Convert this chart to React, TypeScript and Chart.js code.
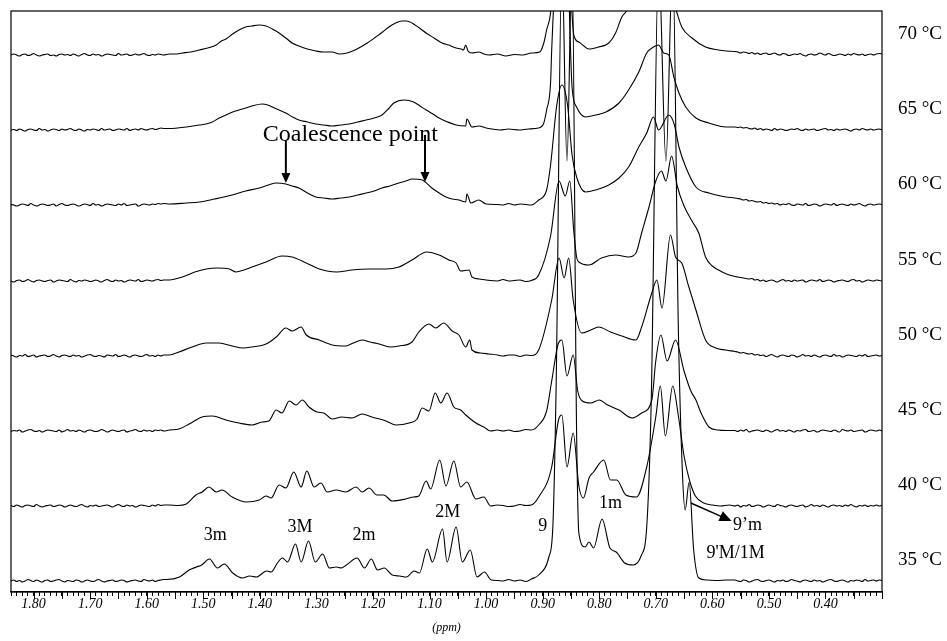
import React, { useEffect, useRef } from 'react';
import { Chart, registerables } from 'chart.js';

Chart.register(...registerables);

const temperatures = ['35 °C', '40 °C', '45 °C', '50 °C', '55 °C', '60 °C', '65 °C', '70 °C'];
const stackOffsets = [0, 75, 150, 225, 300, 376, 451, 526];

// flat baseline regions (ppm) where only noise is present
const leftGrid = [1.840,1.835,1.830,1.825,1.820,1.815,1.810,1.805,1.800,1.795,1.790,1.785,1.780,1.775,1.770,1.765,1.760,1.755,1.750,1.745,1.740,1.735,1.730,1.725,1.720,1.715,1.710,1.705,1.700,1.695,1.690,1.685,1.680,1.675,1.670,1.665,1.660,1.655,1.650,1.645,1.640,1.635,1.630,1.625,1.620,1.615,1.610,1.605,1.600,1.595,1.590,1.585,1.580,1.575,1.570];
const rightGrid = [0.560,0.555,0.550,0.545,0.540,0.535,0.530,0.525,0.520,0.515,0.510,0.505,0.500,0.495,0.490,0.485,0.480,0.475,0.470,0.465,0.460,0.455,0.450,0.445,0.440,0.435,0.430,0.425,0.420,0.415,0.410,0.405,0.400,0.395,0.390,0.385,0.380,0.375,0.370,0.365,0.360,0.355,0.350,0.345,0.340,0.335,0.330,0.325,0.320,0.315,0.310,0.305,0.300];

// baseline noise read on those grids
const left35 = [0,1,-0.5,0.5,-1,0,1.5,0.5,-0.5,1, 0,-1,0.5,1,-0.5,0,1,1.5,0,-1, 0.5,0,-0.5,1,0.5,-1,0,1,0,-0.5, 0.5,1.5,0,-1,0,0.5,1,-0.5,0,1, 0.5,-1,0,0.5,1,0,-0.5,1.5,0.5,0, 1,-0.5,0.5,1,1.5];
const right35 = [1,0,-0.5,1,0.5,-1,0,1,1.5,0, -0.5,0.5,1,0,-1,0.5,0,1,-0.5,0, 1.5,0.5,0,-1,0.5,1,0,-0.5,1,0, 0.5,-1,0,1,1.5,0,-0.5,0.5,1,0, -1,0.5,0,1,0.5,-0.5,1.5,0,0.5,1, 0,1,0.5];
const left40 = [0.5,-0.5,1,0,-1,0.5,1,0,-0.5,1.5, 0,-1,0,0.5,1,-0.5,0,1,0.5,-1, 0,1,0,-0.5,0.5,1.5,0,-1,0.5,0, 1,-0.5,0,0.5,1,0,-1,0.5,1.5,0, -0.5,1,0,0.5,-1,0,1,0.5,0,-0.5, 1,0,1.5,0.5,1];
const right40 = [0,1,-1,0.5,0,1.5,-0.5,0,1,0.5, -1,0,1,0,-0.5,1.5,0.5,0,-1,0.5, 1,0,-0.5,0.5,1,-1,0,1.5,0,0.5, -0.5,1,0,-1,0.5,1,0,0.5,-0.5,1, 0,1.5,0,-1,0.5,0,1,-0.5,0.5,0, 1,0,1];
const left45 = [-0.5,0.5,0,1,-1,0,1,1.5,0,-0.5, 0.5,-1,0,1,0.5,0,-0.5,1,-1,0, 1.5,0,0.5,-0.5,1,0,-1,0.5,1,0, -0.5,0,1.5,0.5,-1,0,1,0,-0.5,0.5, 1,-1,0,0.5,1.5,0,-0.5,1,0,0.5, -0.5,1,0.5,1,0];
const right45 = [0.5,-0.5,1,0,1.5,-1,0,0.5,1,0, -0.5,1,0,-1,0.5,1.5,0,0.5,-0.5,1, 0,-1,0.5,0,1,1.5,-0.5,0,0.5,-1, 0,1,0.5,0,-0.5,1,0,-1,1.5,0.5, 0,1,-0.5,0,0.5,1,-1,0,1,0.5, 0,1,0];
const left50 = [1,0,-1,0.5,0,1.5,-0.5,0,1,-1, 0,0.5,1,-0.5,0,1.5,0,-1,0.5,1, 0,-0.5,1,0,0.5,-1,0,1,1.5,0, -0.5,0.5,0,-1,1,0.5,0,1.5,-0.5,0, 1,0,-1,0.5,1,0,-0.5,0.5,1.5,0, 0.5,-0.5,1,0,1];
const right50 = [4.5,4,3,3.5,2.5,2,2.5,1,1.5,0.5, 1,-0.5,0.5,1.5,0,-1,0.5,1,0,-0.5, 1,0.5,-1,0,1.5,0,0.5,-0.5,1,0, -1,0.5,1,0,-0.5,1.5,0,0.5,-1,0, 1,0.5,0,-0.5,1,0,1.5,-0.5,0,0.5, 1,0,0.5];
const left55 = [0,-1,0.5,1,-0.5,0,1.5,0,-1,0.5, 1,0,-0.5,0.5,1,-1,0,1,0.5,0, -0.5,1.5,0,-1,0.5,0,1,0.5,-0.5,0, 1,0,-1,0.5,1.5,0,-0.5,1,0,0.5, -1,0,1,0.5,0,1.5,-0.5,0,1,0.5, 0,1,1.5,0.5,1];
const right55 = [4.5,4,3.5,3,2.5,2,2.5,1,1.5,0, 1,-0.5,0.5,1,0,-1,0.5,1.5,0,0.5, -0.5,1,0,0.5,1,-1,0,1,0.5,0, 1.5,-0.5,0,1,0.5,-1,0,0.5,1,0, -0.5,1,1.5,0,0.5,-1,0,1,0.5,0, 1,0.5,0];
const left60 = [0.5,0,-1,0,1,0.5,-0.5,1.5,0,-1, 0,1,0.5,-0.5,0,1,-1,0.5,1.5,0, -0.5,0.5,1,0,-1,0,1,0.5,-0.5,1.5, 0,0.5,-1,0,1,0.5,0,-0.5,1,0, 1.5,-0.5,0,0.5,1,-1,0,1,0.5,0, 1,0.5,1.5,1,1.5];
const right60 = [7,6.5,6,5,5.5,4,4.5,3.5,3,3.5, 2,2.5,1.5,2,1,1.5,0,1,0.5,1.5, 0,-0.5,1,0.5,0,1.5,-0.5,0,1,0.5, -1,0,1,0.5,0,1.5,-0.5,0.5,1,0, -0.5,1,0,0.5,1.5,0,-1,0.5,1,0, 0.5,1,0.5];
const left65 = [0,0.5,-0.5,1,0,-1,0.5,1,0,-0.5, 1.5,0,0.5,-1,0,1,0.5,-0.5,1,0, 0.5,1.5,0,-0.5,1,0,-1,0.5,0,1, 0.5,-0.5,1.5,0,0.5,1,-0.5,0,1,0.5, 0,1.5,-0.5,0.5,1,0,1.5,0.5,0,1, 1.5,0.5,1,2,1.5];
const right65 = [3,2.5,3,2,2.5,1.5,1,2,0.5,1.5, 0,1,0.5,-0.5,1.5,0,1,0.5,-0.5,0, 1,0.5,1.5,0,-0.5,1,0,0.5,1,-0.5, 0,1,1.5,0,0.5,-0.5,1,0,0.5,1, 0,-1,0.5,1,0,1.5,0.5,0,1,0, 0.5,1,0];
const left70 = [0,1,0,-1,0.5,1,-0.5,0,1.5,0, -1,0,0.5,1,-0.5,0,-1,0.5,1,0, 0.5,-0.5,1,0,-1,0.5,1.5,0,-0.5,1, 0,0.5,-1,0,1,0.5,0,-0.5,1.5,0, 0.5,1,-0.5,0,1,0,0.5,1.5,0,-0.5, 0.5,0,1,0.5,0];
const right70 = [3.5,3,2,3,2.5,1.5,2.5,1,2,0.5, 1.5,2,0.5,1,2,0.5,0,1.5,1,-0.5, 0,1,0.5,1.5,0,-1,0.5,1,0,0.5, 2,1,0,1.5,0.5,-0.5,0,1,0.5,-0.5, 1,0,1.5,0.5,0,1,-0.5,0.5,1,0, 1,1.5,1];

// signal regions: [ppm, intensity] pairs
const peaks35 = [
  [1.565,1.5],[1.542,4],[1.525,11],[1.512,14],[1.503,16],[1.489,22],[1.475,13],[1.463,17],[1.448,8],[1.431,3],[1.418,5],[1.406,4],[1.388,10],[1.380,9],[1.369,18],[1.360,23],[1.351,19],[1.337,37],[1.327,19],[1.314,40],[1.302,19],[1.289,27],[1.277,13],[1.265,14],[1.256,13],[1.247,16],[1.228,23],[1.215,13],[1.203,22],[1.192,11],[1.180,13],[1.166,6],[1.153,5],[1.141,4],[1.127,10],[1.118,8],[1.104,32],[1.095,19],[1.077,52],[1.069,19],[1.053,54],[1.042,19],[1.028,31],[1.016,4],[1.003,9],[0.991,1],[0.98,0.5],[0.97,0],[0.96,1.5],[0.95,0],[0.94,1],[0.93,-0.5],[0.92,2],
  [0.907,6],[0.889,24],[0.882,54],[0.876,200],[0.866,620],[0.857,420],[0.848,620],[0.840,150],[0.836,48],[0.825,34],[0.818,39],[0.810,33],[0.795,62],[0.781,33],[0.770,29],[0.755,18],[0.740,16],[0.726,25],[0.716,54],[0.708,180],[0.695,620],[0.682,420],[0.670,620],[0.660,250],[0.653,110],[0.648,71],[0.641,99],[0.633,31],[0.624,3],[0.61,1],[0.59,0.5],[0.575,1],
];
const peaks40 = [
  [1.56,1],[1.545,0.5],[1.530,2],[1.513,11],[1.502,14],[1.490,19],[1.477,14],[1.467,16],[1.449,9],[1.424,4],[1.401,6],[1.389,10],[1.380,8],[1.366,21],[1.354,18],[1.340,34],[1.327,19],[1.317,35],[1.304,19],[1.292,23],[1.281,14],[1.265,16],[1.248,14],[1.230,19],[1.219,14],[1.207,18],[1.193,11],[1.181,11],[1.166,5],[1.142,7],[1.128,9],[1.119,10],[1.106,25],[1.098,17],[1.082,46],[1.071,20],[1.057,45],[1.045,19],[1.034,24],[1.018,7],[1.004,9],[0.992,0],[0.98,1],[0.97,0.5],[0.96,-0.5],[0.95,0],[0.94,1.5],[0.93,0.5],[0.92,1],
  [0.907,9],[0.884,39],[0.872,86],[0.866,91],[0.857,39],[0.846,73],[0.836,20],[0.828,8],[0.818,28],[0.810,34],[0.792,46],[0.780,26],[0.769,26],[0.753,11],[0.734,9],[0.716,39],[0.700,89],[0.692,120],[0.683,70],[0.670,120],[0.660,90],[0.650,50],[0.640,25],[0.630,10],[0.615,3],[0.60,1],[0.585,0],[0.57,1],
];
const peaks45 = [
  [1.56,1],[1.543,2],[1.525,7],[1.502,14],[1.484,15],[1.460,11],[1.437,8],[1.414,6],[1.396,9],[1.384,10],[1.371,21],[1.361,18],[1.348,30],[1.336,26],[1.325,31],[1.313,24],[1.299,19],[1.287,18],[1.272,12],[1.255,14],[1.237,13],[1.219,17],[1.202,14],[1.177,10],[1.159,6],[1.136,8],[1.122,12],[1.113,23],[1.101,20],[1.090,38],[1.080,28],[1.069,38],[1.057,24],[1.045,21],[1.036,16],[1.018,8],[1.004,4],[0.992,0],[0.98,1],[0.97,0],[0.96,1],[0.95,-0.5],[0.94,0],[0.93,1.5],[0.92,1],
  [0.907,6],[0.893,20],[0.884,50],[0.872,88],[0.866,91],[0.857,55],[0.846,76],[0.838,40],[0.830,30],[0.815,28],[0.800,31],[0.785,26],[0.765,21],[0.742,13],[0.725,18],[0.707,31],[0.700,70],[0.691,96],[0.680,70],[0.665,91],[0.650,60],[0.638,40],[0.629,31],[0.620,18],[0.606,4],[0.59,1],[0.575,0.5],
];
const peaks50 = [
  [1.56,1],[1.543,4],[1.520,9],[1.495,13],[1.472,13],[1.449,10],[1.430,8],[1.414,9],[1.389,12],[1.371,19],[1.354,28],[1.343,25],[1.327,29],[1.318,21],[1.295,16],[1.272,11],[1.248,10],[1.235,13],[1.219,16],[1.205,14],[1.189,12],[1.170,9],[1.154,10],[1.131,14],[1.119,24],[1.101,32],[1.089,28],[1.075,33],[1.060,25],[1.048,21],[1.036,9],[1.029,16],[1.025,6],[1.01,3],[0.995,2],[0.98,1],[0.97,0],[0.96,1],[0.95,1],[0.94,-0.5],[0.93,1],[0.92,0.5],
  [0.907,6],[0.884,56],[0.871,98],[0.862,78],[0.854,98],[0.846,56],[0.831,23],[0.815,26],[0.801,29],[0.780,24],[0.760,20],[0.735,16],[0.725,29],[0.707,63],[0.698,76],[0.689,48],[0.674,121],[0.665,99],[0.654,93],[0.642,70],[0.629,46],[0.612,16],[0.594,8],[0.576,6],
];
const peaks55 = [
  [1.56,1],[1.537,4],[1.515,9],[1.495,12],[1.475,13],[1.454,12],[1.442,9],[1.428,11],[1.414,14],[1.389,19],[1.361,25],[1.343,24],[1.318,18],[1.295,12],[1.265,9],[1.237,11],[1.207,12],[1.177,12],[1.154,14],[1.131,21],[1.105,29],[1.083,26],[1.066,21],[1.053,18],[1.045,10],[1.030,11],[1.025,4],[1.012,2],[1.0,1],[0.98,0],[0.97,1.5],[0.96,0],[0.95,0.5],[0.94,1],[0.93,-0.5],[0.92,0.5],
  [0.907,6],[0.886,45],[0.871,100],[0.860,85],[0.852,100],[0.845,50],[0.840,24],[0.836,19],[0.818,16],[0.796,23],[0.771,26],[0.748,24],[0.735,28],[0.725,48],[0.712,74],[0.700,100],[0.690,110],[0.682,100],[0.672,125],[0.662,95],[0.650,75],[0.636,60],[0.624,48],[0.612,24],[0.600,15],[0.589,11],[0.575,7],
];
const peaks60 = [
  [1.56,1],[1.53,2],[1.507,3],[1.48,6],[1.449,10],[1.425,14],[1.401,17],[1.385,20],[1.371,22],[1.354,21],[1.343,19],[1.331,17],[1.316,12],[1.301,8],[1.287,7],[1.272,6],[1.257,7],[1.242,8],[1.227,10],[1.212,12],[1.198,14],[1.184,17],[1.170,19],[1.154,22],[1.142,24],[1.131,26],[1.113,25],[1.096,17],[1.083,12],[1.071,8],[1.060,6],[1.048,5],[1.036,3],[1.034,11],[1.027,2],[1.013,5],[1.0,1],[0.98,0.5],[0.97,0],[0.96,1.5],[0.95,0],[0.94,1],[0.93,0.5],[0.92,0],
  [0.907,5],[0.893,15],[0.886,40],[0.875,100],[0.866,120],[0.856,100],[0.848,50],[0.840,28],[0.824,13],[0.806,15],[0.783,20],[0.765,27],[0.748,38],[0.730,58],[0.716,72],[0.704,88],[0.695,75],[0.677,90],[0.667,80],[0.659,58],[0.647,38],[0.629,18],[0.606,12],[0.576,8],
];
const peaks65 = [
  [1.56,1.5],[1.53,3],[1.507,5],[1.495,6],[1.484,8],[1.472,12],[1.460,15],[1.448,18],[1.437,20],[1.425,22],[1.414,24],[1.396,26],[1.386,25],[1.378,23],[1.366,20],[1.354,17],[1.342,13],[1.331,10],[1.316,8],[1.301,6],[1.287,5],[1.272,4],[1.257,5],[1.242,6],[1.227,8],[1.212,10],[1.198,12],[1.184,15],[1.173,21],[1.163,27],[1.145,30],[1.128,28],[1.117,24],[1.106,20],[1.094,16],[1.083,12],[1.068,8],[1.053,5],[1.036,4],[1.034,11],[1.025,3],[1.013,4],[1.0,2],[0.990,1],[0.975,0],[0.96,1],[0.942,0],[0.925,1],
  [0.907,2],[0.898,7],[0.893,20],[0.886,47],[0.884,80],[0.876,170],[0.866,200],[0.856,170],[0.848,43],[0.840,23],[0.824,13],[0.806,15],[0.788,18],[0.765,27],[0.748,40],[0.730,58],[0.716,77],[0.704,83],[0.695,85],[0.686,77],[0.677,75],[0.668,53],[0.659,37],[0.647,23],[0.629,12],[0.606,7],[0.576,3],
];
const peaks70 = [
  [1.56,1],[1.55,1],[1.537,2],[1.522,3],[1.507,5],[1.492,7],[1.477,10],[1.468,14],[1.460,16],[1.448,21],[1.437,25],[1.425,28],[1.414,29],[1.402,30],[1.389,29],[1.378,26],[1.366,22],[1.354,17],[1.343,12],[1.331,9],[1.316,6],[1.301,4],[1.287,3],[1.272,3],[1.259,1],[1.246,2],[1.236,4],[1.225,7],[1.210,12],[1.195,18],[1.183,23],[1.172,28],[1.160,32],[1.149,34],[1.140,34],[1.131,32],[1.118,27],[1.106,22],[1.092,17],[1.078,12],[1.066,10],[1.053,7],[1.044,6],[1.040,5],[1.036,10],[1.032,4],[1.025,2],[1.013,3],[1.004,1],[0.995,0],[0.98,1],[0.965,-1],[0.95,0.5],[0.935,0],[0.92,2],
  [0.905,3],[0.898,12],[0.893,25],[0.886,42],[0.878,100],[0.868,160],[0.858,150],[0.850,60],[0.845,20],[0.836,13],[0.818,6],[0.801,8],[0.783,12],[0.771,22],[0.760,38],[0.753,43],[0.73,70],[0.71,80],[0.69,80],[0.675,65],[0.663,43],[0.654,28],[0.636,17],[0.612,8],[0.589,5],[0.575,4],
];

const leftNoise = [left35, left40, left45, left50, left55, left60, left65, left70];
const signals = [peaks35, peaks40, peaks45, peaks50, peaks55, peaks60, peaks65, peaks70];
const rightNoise = [right35, right40, right45, right50, right55, right60, right65, right70];

const SERIF = '"Liberation Serif", "Times New Roman", serif';

function drawArrow(ctx: CanvasRenderingContext2D, x1: number, y1: number, x2: number, y2: number, head: number) {
  const a = Math.atan2(y2 - y1, x2 - x1);
  ctx.beginPath();
  ctx.moveTo(x1, y1);
  ctx.lineTo(x2 - Math.cos(a) * head * 0.8, y2 - Math.sin(a) * head * 0.8);
  ctx.stroke();
  ctx.beginPath();
  ctx.moveTo(x2, y2);
  ctx.lineTo(x2 - head * Math.cos(a) + head * 0.45 * Math.sin(a), y2 - head * Math.sin(a) - head * 0.45 * Math.cos(a));
  ctx.lineTo(x2 - head * Math.cos(a) - head * 0.45 * Math.sin(a), y2 - head * Math.sin(a) + head * 0.45 * Math.cos(a));
  ctx.closePath();
  ctx.fill();
}

const decorPlugin = {
  id: 'decor',
  afterDraw(chart: any) {
    const { ctx, chartArea, scales } = chart;
    const xs = scales.x;
    const ys = scales.y;
    const px = (v: number) => xs.getPixelForValue(v);
    const py = (v: number) => ys.getPixelForValue(v);
    ctx.save();
    ctx.strokeStyle = '#000';
    ctx.fillStyle = '#000';
    ctx.lineWidth = 1.2;
    ctx.strokeRect(chartArea.left, chartArea.top, chartArea.right - chartArea.left, chartArea.bottom - chartArea.top);

    ctx.lineWidth = 1;
    for (let k = 6; k <= 36; k++) {
      const v = k * 0.05;
      if (v < xs.min || v > xs.max) continue;
      const x = Math.round(px(v)) + 0.5;
      ctx.beginPath();
      ctx.moveTo(x, chartArea.bottom);
      ctx.lineTo(x, chartArea.bottom + 7);
      ctx.stroke();
    }

    ctx.font = `19px ${SERIF}`;
    ctx.textAlign = 'left';
    ctx.textBaseline = 'middle';
    temperatures.forEach((t, i) => {
      ctx.fillText(t, chartArea.right + 16, py(stackOffsets[i]) - 21);
    });

    ctx.font = `18px ${SERIF}`;
    ctx.textAlign = 'center';
    const peakLabels: [string, number, number][] = [
      ['3m', 1.479, 46], ['3M', 1.329, 54], ['2m', 1.216, 46], ['2M', 1.068, 69],
      ['9', 0.900, 55], ['1m', 0.780, 78], ["9'M/1M", 0.559, 28], ['9\u2019m', 0.538, 56],
    ];
    peakLabels.forEach(([t, x, y]) => ctx.fillText(t, px(x), py(y)));

    ctx.lineWidth = 1.5;
    drawArrow(ctx, px(0.638), py(78), px(0.566), py(60), 12);

    ctx.font = `24px ${SERIF}`;
    ctx.fillText('Coalescence point', px(1.24), py(446));
    ctx.lineWidth = 2;
    drawArrow(ctx, px(1.354), py(440), px(1.354), py(398), 10);
    drawArrow(ctx, px(1.108), py(446), px(1.108), py(399), 10);
    ctx.restore();
  },
};

export default function App() {
  const ref = useRef<HTMLCanvasElement>(null);
  useEffect(() => {
    document.body.style.margin = '0';
    const canvas = ref.current!;
    const datasets = signals.map((sig, i) => {
      const pts: { x: number; y: number }[] = [];
      leftGrid.forEach((x, j) => pts.push({ x, y: (leftNoise[i][j] ?? 0) + stackOffsets[i] }));
      sig.forEach(([x, y]) => pts.push({ x, y: y + stackOffsets[i] }));
      rightGrid.forEach((x, j) => pts.push({ x, y: (rightNoise[i][j] ?? 0) + stackOffsets[i] }));
      return {
        label: temperatures[i],
        data: pts,
        borderColor: '#000',
        borderWidth: 1.1,
        pointRadius: 0,
        cubicInterpolationMode: 'monotone',
        fill: false,
      };
    });
    const chart = new Chart(canvas, {
      type: 'line',
      data: { datasets },
      options: {
        responsive: false,
        animation: false,
        events: [],
        layout: { padding: { left: 11, right: 65, top: 11, bottom: 0 } },
        plugins: { legend: { display: false }, tooltip: { enabled: false } },
        scales: {
          x: {
            type: 'linear',
            reverse: true,
            min: 0.30,
            max: 1.84,
            afterFit: (s: any) => { s.height = 49; },
            ticks: {
              stepSize: 0.01,
              autoSkip: false,
              maxRotation: 0,
              minRotation: 0,
              padding: 0,
              color: '#000',
              font: { family: SERIF, size: 14, style: 'italic' },
              callback: (v: any) => {
                const n = Number(v);
                if (n < 0.39 || n > 1.81) return '';
                return Math.abs(n * 10 - Math.round(n * 10)) < 1e-6 ? n.toFixed(2) : '';
              },
            },
            grid: { drawOnChartArea: false, drawTicks: true, tickLength: 4, color: '#000', tickColor: '#000' },
            border: { display: true, color: '#000', width: 1.2 },
            title: { display: true, text: '(ppm)', color: '#000', font: { family: SERIF, size: 12, style: 'italic' }, padding: { top: 0, bottom: 6 } },
          },
          y: { display: false, min: -11, max: 570 },
        },
      },
      plugins: [decorPlugin],
    } as any);
    return () => chart.destroy();
  }, []);
  return <canvas ref={ref} width={947} height={641} style={{ display: 'block' }} />;
}
